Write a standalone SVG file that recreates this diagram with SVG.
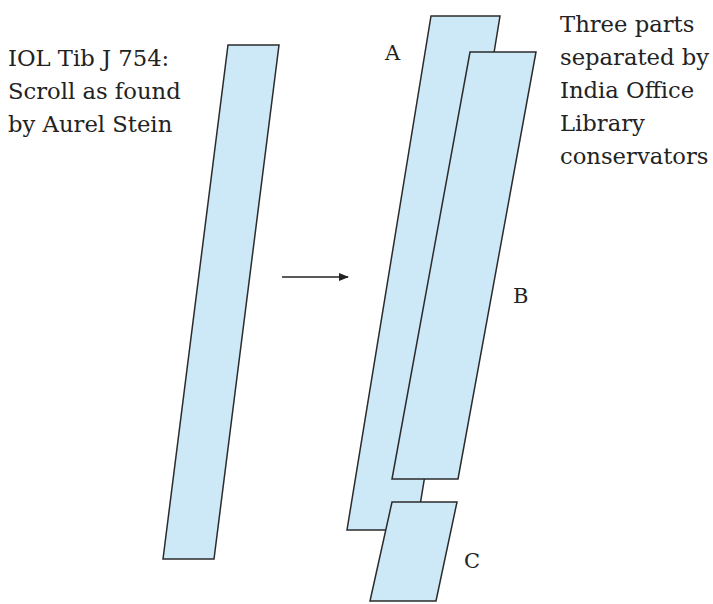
<svg xmlns="http://www.w3.org/2000/svg" width="713" height="604" viewBox="0 0 713 604">
<style>
.p{fill:#cde8f7;stroke:#2b2b2b;stroke-width:1.5;stroke-linejoin:miter}
.t{font-family:"DejaVu Serif","Liberation Serif",serif;font-size:22.7px;fill:#222}
.l{font-family:"DejaVu Serif","Liberation Serif",serif;font-size:21px;fill:#222}
</style>
<defs>
<marker id="ah" markerWidth="10" markerHeight="8" refX="9" refY="4" orient="auto" markerUnits="userSpaceOnUse">
<path d="M0,0 L10,4 L0,8 Z" fill="#222"/>
</marker>
</defs>
<rect width="713" height="604" fill="#fff"/>
<g id="scroll">
<polygon class="p" points="228,45 279,45 214,559 163,559"/>
</g>
<g id="partA">
<polygon class="p" points="431,16 500,16 416,530 347,530"/>
</g>
<g id="partB">
<polygon class="p" points="470,52 536,52 458,479 392,479"/>
</g>
<g id="partC">
<polygon class="p" points="392,502 457,502 436,601 370,601"/>
</g>
<g id="connectors">
<line x1="282" y1="277" x2="348" y2="277" stroke="#222" stroke-width="1.5" marker-end="url(#ah)"/>
</g>
<g id="labels">
<text class="t" x="8" y="66">IOL Tib J 754:</text>
<text class="t" x="8" y="99">Scroll as found</text>
<text class="t" x="8" y="132">by Aurel Stein</text>
<text class="t" x="560" y="32">Three parts</text>
<text class="t" x="560" y="65">separated by</text>
<text class="t" x="560" y="98">India Office</text>
<text class="t" x="560" y="131">Library</text>
<text class="t" x="560" y="164">conservators</text>
<text class="l" x="385" y="60">A</text>
<text class="l" x="513" y="303">B</text>
<text class="l" x="464" y="568">C</text>
</g>
</svg>
